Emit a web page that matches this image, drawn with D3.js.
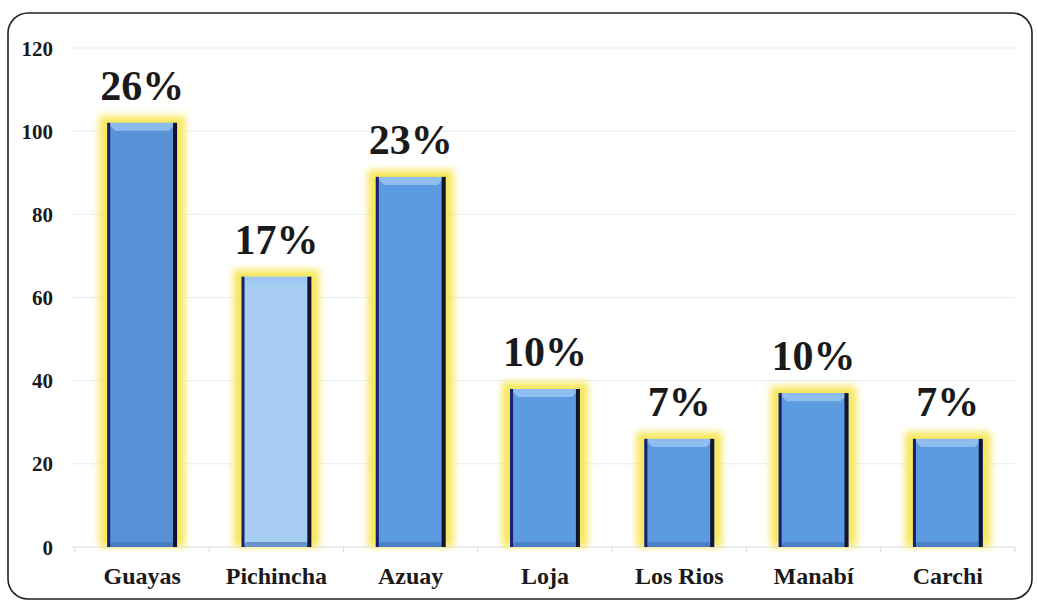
<!DOCTYPE html>
<html>
<head>
<meta charset="utf-8">
<script src="https://cdn.jsdelivr.net/npm/d3@7"></script>
<style>
body { margin: 0; background: #fff; }
svg text { font-family: "Liberation Serif", "Times New Roman", serif; font-weight: bold; fill: #1a1a1a; }
</style>
</head>
<body>
<script>
// chart data
var provinces = ["Guayas", "Pichincha", "Azuay", "Loja", "Los Rios", "Manabí", "Carchi"];
var counts = [102, 65, 89, 38, 26, 37, 26];
var percents = ["26%", "17%", "23%", "10%", "7%", "10%", "7%"];
var barColors = ["#5891d6", "#a8cdf2", "#5c9be0", "#5c9be0", "#5c9be0", "#5c9be0", "#5c9be0"];
var yTicks = [0, 20, 40, 60, 80, 100, 120];

window.onload = drawChart

function drawChart(){
    var width = 1038,
        height = 605;

    var svg = d3.select("body")
        .append("svg")
        .attr("width", width)
        .attr("height", height);

    var defs = svg.append("defs");
    // yellow glow behind the bars
    var glow = defs.append("filter")
        .attr("id", "glow")
        .attr("x", "-30%").attr("y", "-30%")
        .attr("width", "160%").attr("height", "160%");
    glow.append("feGaussianBlur").attr("stdDeviation", 3.5);

    // frame
    svg.append("rect")
        .attr("x", 8).attr("y", 13)
        .attr("width", 1024).attr("height", 586)
        .attr("rx", 20)
        .attr("fill", "#fff")
        .attr("stroke", "#222")
        .attr("stroke-width", 1.6);

    var x = d3.scaleBand()
        .domain(provinces)
        .range([75, 1015])
        .paddingInner(0.48)
        .paddingOuter(0.24);

    var y = d3.scaleLinear()
        .domain([0, 120])
        .range([547, 48]);

    // gridlines
    svg.append("g")
        .selectAll("line")
        .data(yTicks.filter(function(d){ return d > 0; }))
        .join("line")
        .attr("x1", 72).attr("x2", 1015)
        .attr("y1", function(d){ return y(d); })
        .attr("y2", function(d){ return y(d); })
        .attr("stroke", "#e8ebf0")
        .attr("stroke-width", 1);

    // y axis labels
    var yAxis = d3.axisLeft(y)
        .tickValues(yTicks)
        .tickSize(0)
        .tickPadding(0);
    var yg = svg.append("g")
        .attr("transform", "translate(53,0)")
        .call(yAxis);
    yg.select(".domain").remove();
    yg.selectAll("text")
        .style("font-size", "21px")
        .attr("dy", "0.34em")
        .attr("fill", "#1a1a1a");

    // baseline and small ticks
    svg.append("line")
        .attr("x1", 72).attr("x2", 1015)
        .attr("y1", y(0)).attr("y2", y(0))
        .attr("stroke", "#d8dbe0");
    var step = x.step();
    var bounds = d3.range(provinces.length + 1).map(function(i){ return 75 + i * step; });
    svg.append("g")
        .selectAll("line")
        .data(bounds)
        .join("line")
        .attr("x1", function(d){ return d; })
        .attr("x2", function(d){ return d; })
        .attr("y1", y(0)).attr("y2", y(0) + 5)
        .attr("stroke", "#d8dbe0");

    // x axis labels
    var xAxis = d3.axisBottom(x).tickSize(0).tickPadding(0);
    var xg = svg.append("g")
        .attr("transform", "translate(0," + (y(0) + 29) + ")")
        .call(xAxis);
    xg.select(".domain").remove();
    xg.selectAll("text")
        .style("font-size", "24px")
        .attr("dy", "0.35em")
        .attr("fill", "#1a1a1a");

    var bars = svg.append("g")
        .selectAll("g")
        .data(provinces)
        .join("g");

    // glow
    bars.append("rect")
        .attr("x", function(d){ return x(d) - 8; })
        .attr("y", function(d, i){ return y(counts[i]) - 7; })
        .attr("width", x.bandwidth() + 16)
        .attr("height", function(d, i){ return y(0) - y(counts[i]) + 7; })
        .attr("fill", "#f7e75c")
        .attr("filter", "url(#glow)");

    // bar body
    bars.append("rect")
        .attr("x", function(d){ return x(d); })
        .attr("y", function(d, i){ return y(counts[i]); })
        .attr("width", x.bandwidth())
        .attr("height", function(d, i){ return y(0) - y(counts[i]); })
        .attr("fill", function(d, i){ return barColors[i]; });

    // bevel: lighter top strip
    bars.append("path")
        .attr("d", function(d, i){
            var x0 = x(d), x1 = x(d) + x.bandwidth(), t = y(counts[i]);
            return "M" + x0 + "," + t + "L" + x1 + "," + t + "L" + (x1 - 8) + "," + (t + 8) + "L" + (x0 + 8) + "," + (t + 8) + "Z";
        })
        .attr("fill", "#9cc6f2")
        .attr("opacity", 0.8);

    // bevel: darker bottom strip
    bars.append("path")
        .attr("d", function(d, i){
            var x0 = x(d), x1 = x(d) + x.bandwidth(), b = y(0);
            return "M" + x0 + "," + b + "L" + x1 + "," + b + "L" + (x1 - 5) + "," + (b - 5) + "L" + (x0 + 5) + "," + (b - 5) + "Z";
        })
        .attr("fill", "#3f6fb0")
        .attr("opacity", 0.6);

    // dark side edges
    bars.append("rect")
        .attr("x", function(d){ return x(d); })
        .attr("y", function(d, i){ return y(counts[i]); })
        .attr("width", 3)
        .attr("height", function(d, i){ return y(0) - y(counts[i]); })
        .attr("fill", "#1c1f6a");
    bars.append("rect")
        .attr("x", function(d){ return x(d) + x.bandwidth() - 4; })
        .attr("y", function(d, i){ return y(counts[i]); })
        .attr("width", 4)
        .attr("height", function(d, i){ return y(0) - y(counts[i]); })
        .attr("fill", "#121430");

    // percentage labels
    bars.append("text")
        .attr("x", function(d){ return x(d) + x.bandwidth() / 2; })
        .attr("y", function(d, i){ return y(counts[i]) - 23; })
        .attr("text-anchor", "middle")
        .style("font-size", "42px")
        .text(function(d, i){ return percents[i]; });
}
</script>
</body>
</html>
